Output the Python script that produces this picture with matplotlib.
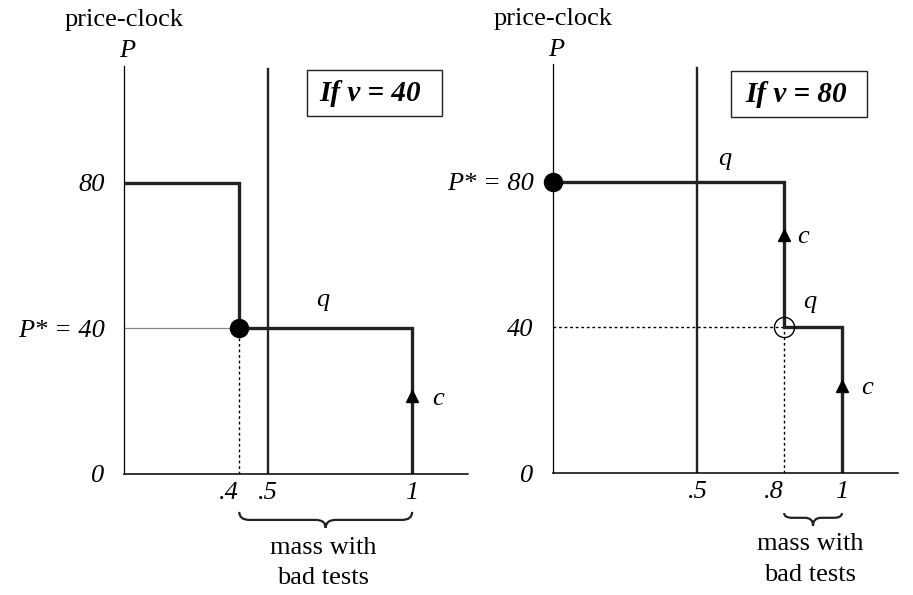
import matplotlib
matplotlib.use("Agg")
import matplotlib.pyplot as plt
from matplotlib.path import Path
from matplotlib.patches import PathPatch, Rectangle

plt.rcParams['font.family'] = ['Liberation Serif', 'DejaVu Serif']

# data
left_step_x = [0, .4, .4, 1, 1]
left_step_y = [80, 80, 40, 40, 0]
right_step_x = [0, .8, .8, 1, 1]
right_step_y = [80, 80, 40, 40, 0]
cutoff = .5
left_ticks = [.4, .5, 1]
left_ticklabels = ['.4', '.5', '1']
right_ticks = [.5, .8, 1]
right_ticklabels = ['.5', '.8', '1']
left_yticks = [0, 40, 80]
left_yticklabels = ['0', 'P* = 40', '80']
right_yticks = [0, 40, 80]
right_yticklabels = ['0', '40', 'P* = 80']

INK = '#222222'
FS = 19


def brace(ax, x0, x1, yt, ym, yb, r):
    xm = (x0 + x1) / 2
    verts = [(x0, yt), (x0, ym), (x0 + r, ym), (xm - r, ym), (xm, ym), (xm, yb),
             (xm, ym), (xm + r, ym), (x1 - r, ym), (x1, ym), (x1, yt)]
    codes = [Path.MOVETO, Path.CURVE3, Path.CURVE3, Path.LINETO, Path.CURVE3, Path.CURVE3,
             Path.CURVE3, Path.CURVE3, Path.LINETO, Path.CURVE3, Path.CURVE3]
    ax.add_patch(PathPatch(Path(verts, codes), fill=False, lw=1.6, ec=INK, clip_on=False))


def setup(ax, ymax, ticks, ticklabels, yticks, yticklabels, shift_left):
    ax.set_xlim(0, 1.194)
    ax.set_ylim(0, ymax)
    for s in ['top', 'right']:
        ax.spines[s].set_visible(False)
    ax.spines['left'].set_linewidth(0.9)
    ax.spines['bottom'].set_linewidth(1.1)
    ax.set_xticks(ticks, ticklabels, fontsize=FS, fontstyle='italic')
    ax.set_yticks(yticks, yticklabels, fontsize=FS, fontstyle='italic')
    ax.tick_params(axis='x', length=0, pad=6)
    ax.tick_params(axis='y', length=0, pad=14)
    ax.get_xticklabels()[shift_left].set_ha('right')
    ax.axvline(cutoff, ymax=111.3 / ymax, color=INK, lw=1.7)
    ax.text(0, 123, 'price-clock', ha='center', va='baseline', fontsize=FS, clip_on=False)
    ax.text(0.01, 114.5, 'P', ha='center', va='baseline', fontsize=FS, fontstyle='italic',
            clip_on=False)


def label_box(ax, x, y, text, rect):
    ax.add_patch(Rectangle(rect[:2], rect[2], rect[3], transform=ax.transAxes,
                           fill=False, ec=INK, lw=1, clip_on=False))
    ax.text(x, y, text, ha='center', va='center', fontsize=21,
            fontstyle='italic', fontweight='bold')


fig = plt.figure(figsize=(9.13, 5.95), dpi=100)
ax1 = fig.add_axes([124 / 913, 121 / 595, 344 / 913, 408 / 595])
ax2 = fig.add_axes([553 / 913, 122 / 595, 345 / 913, 409 / 595])

# left panel: v = 40
setup(ax1, 112, left_ticks, left_ticklabels, left_yticks, left_yticklabels, 0)
ax1.plot([0, left_step_x[1]], [40, 40], color='#888888', lw=0.9)
ax1.plot([left_step_x[1]] * 2, [0, 40], color='black', lw=1, ls=(0, (2, 2)))
ax1.plot(left_step_x, left_step_y, color=INK, lw=2.4, solid_joinstyle='miter')
ax1.plot(left_step_x[1], 40, 'o', color='black', ms=13, clip_on=False)
ax1.plot(1, 21.4, '^', color='black', ms=9)
ax1.text(.69, 46, 'q', ha='center', va='baseline', fontsize=FS, fontstyle='italic')
ax1.text(1.09, 19, 'c', ha='center', va='baseline', fontsize=FS, fontstyle='italic')
label_box(ax1, .855, 104.5, 'If v = 40', (0.532, 0.877, 0.392, 0.113))
brace(ax1, .4, 1, -10.4, -12.6, -14.8, .035)
ax1.text(.69, -24.5, 'mass with\nbad tests', ha='center', va='center', fontsize=FS,
         linespacing=1.5, clip_on=False)

# right panel: v = 80
setup(ax2, 112.3, right_ticks, right_ticklabels, right_yticks, right_yticklabels, 1)
ax2.plot([0, right_step_x[1]], [40, 40], color='black', lw=1, ls=(0, (2, 2)))
ax2.plot([right_step_x[1]] * 2, [0, 40], color='black', lw=1, ls=(0, (2, 2)))
ax2.plot(right_step_x, right_step_y, color=INK, lw=2.4, solid_joinstyle='miter')
ax2.plot(0, 80, 'o', color='black', ms=13, clip_on=False)
ax2.plot(right_step_x[1], 40, 'o', mfc='none', mec='black', mew=1, ms=14.5)
ax2.plot(.8, 65.4, '^', color='black', ms=9)
ax2.plot(1, 24, '^', color='black', ms=9)
ax2.text(.596, 84.6, 'q', ha='center', va='baseline', fontsize=FS, fontstyle='italic')
ax2.text(.89, 45.3, 'q', ha='center', va='baseline', fontsize=FS, fontstyle='italic')
ax2.text(.865, 63.2, 'c', ha='center', va='baseline', fontsize=FS, fontstyle='italic')
ax2.text(1.087, 21.7, 'c', ha='center', va='baseline', fontsize=FS, fontstyle='italic')
label_box(ax2, .843, 104, 'If v = 80', (0.516, 0.870, 0.394, 0.113))
brace(ax2, .8, 1, -11, -12.3, -14.5, .028)
ax2.text(.889, -23.8, 'mass with\nbad tests', ha='center', va='center', fontsize=FS,
         linespacing=1.5, clip_on=False)

fig.savefig('out.png', dpi=100)
